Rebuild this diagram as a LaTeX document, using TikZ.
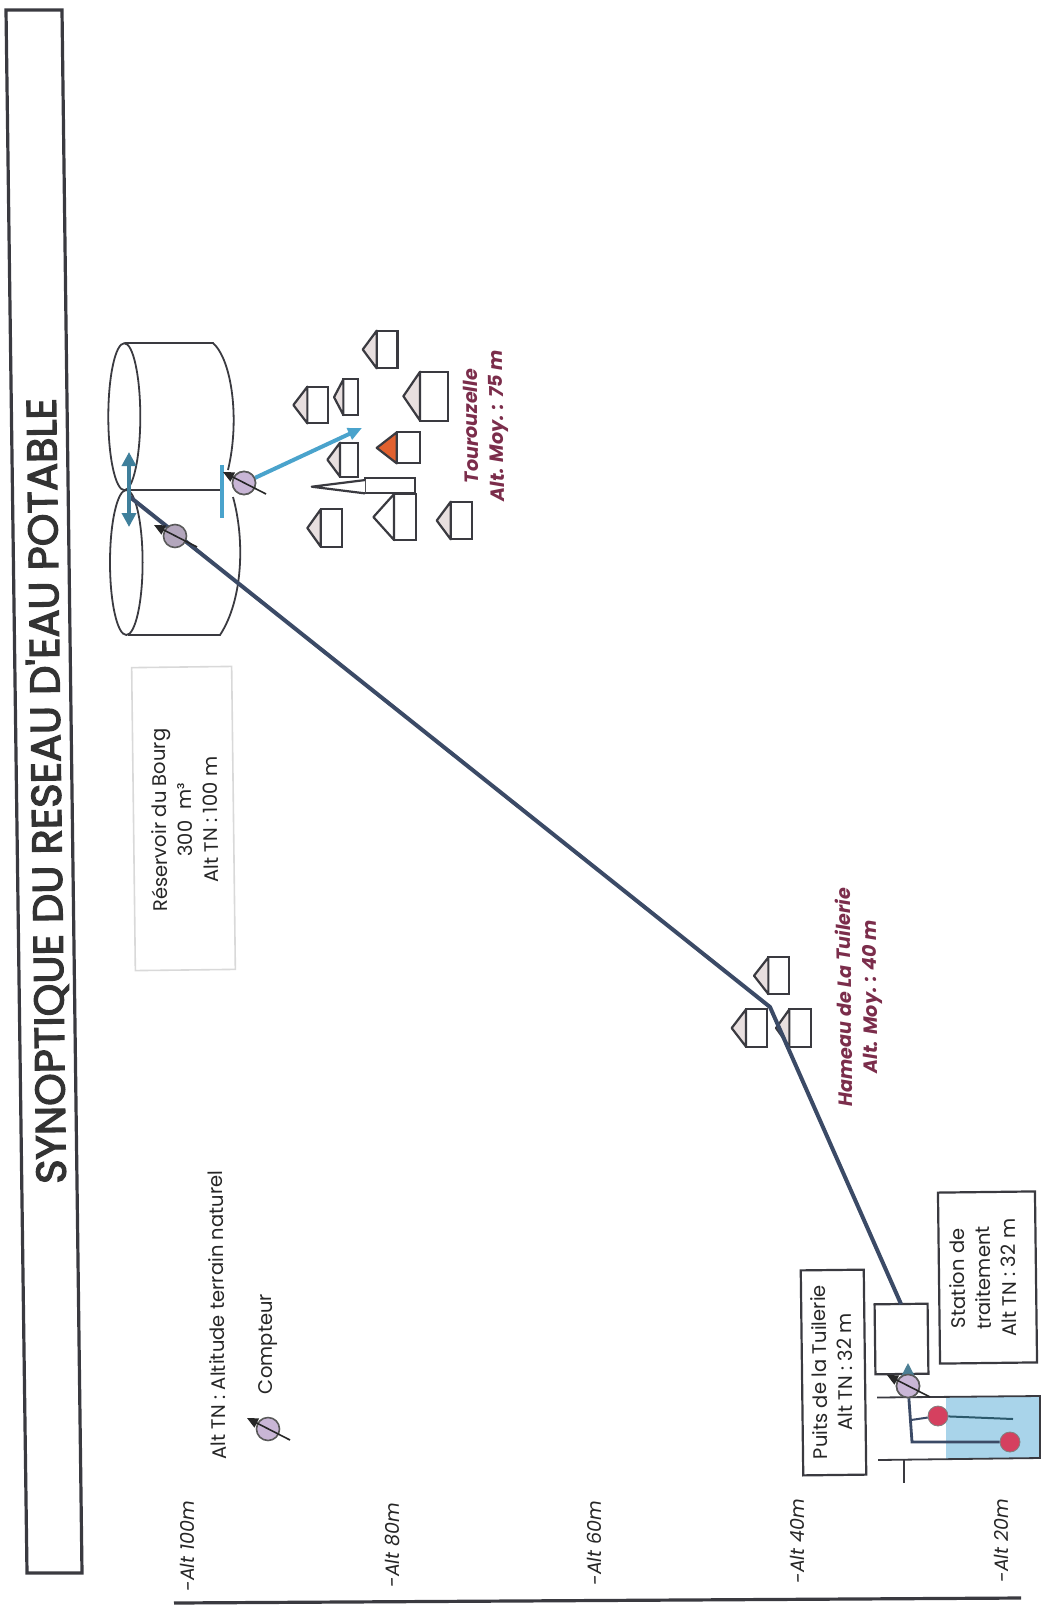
\documentclass[tikz,border=0pt]{standalone}
\usepackage{fontspec}
\setmainfont{Poppins}
\newfontfamily\titlefont[FakeBold=3]{Poppins}
\usetikzlibrary{arrows.meta}
\definecolor{pipe}{HTML}{3B4A66}
\definecolor{bluepipe}{HTML}{4AA3CC}
\definecolor{tealpipe}{HTML}{3F7F9B}
\definecolor{ink}{HTML}{3A3A40}
\definecolor{roof}{HTML}{E8DFDF}
\definecolor{roofred}{HTML}{E2612F}
\definecolor{maroon}{HTML}{7B2D4B}
\definecolor{meterfill}{HTML}{C9B6D6}
\definecolor{water}{HTML}{A9D4EA}
\definecolor{redball}{HTML}{D5405F}
\tikzset{
  wall/.style={draw=ink,line width=1.1pt,fill=white},
  roofshape/.style={draw=ink,line width=1.1pt,fill=roof,line join=round},
  txt/.style={rotate=90.7,align=center,font=\fontsize{9.8}{12.8}\selectfont,text=black!85,inner sep=0pt},
  place/.style={rotate=90.7,align=center,font=\fontsize{9.6}{12.8}\selectfont\bfseries\itshape,text=maroon,inner sep=0pt},
  axislabel/.style={rotate=90.7,anchor=west,font=\fontsize{9.6}{12}\selectfont\itshape,text=black!85,inner sep=0pt},
  framebox/.style={rotate=0.7,draw=ink,line width=1.1pt,fill=white,inner sep=0pt},
  meter/.style={circle,draw=gray!70!black,line width=0.8pt,fill=meterfill,minimum size=11.5pt,inner sep=0pt},
  shaft/.style={draw=black!85,line width=0.8pt,-{Triangle[length=5.5pt,width=5pt]}},
  tank/.style={draw=ink,line width=0.9pt},
}
\newcommand{\house}[6]{%
  \draw[wall] (#2,#4) rectangle (#3,#5);
  \draw[roofshape,fill=#6] (#2,#4) -- (#1,{(#4+#5)/2}) -- (#2,#5) -- cycle;
}
\begin{document}
\begin{tikzpicture}[x=0.5pt,y=-0.5pt]
\useasboundingbox (0,0) rectangle (1041,1606);
% title
\draw[draw=ink,line width=1.6pt] (6,10) -- (62,10) -- (82,1573) -- (27,1573) -- cycle;
\node[rotate=90.73,font=\fontsize{20.8}{24}\titlefont,text=black!80,inner sep=0pt] (title) at (47,791) {SYNOPTIQUE DU RESEAU D'EAU POTABLE};
% bottom rule
\coordinate (ruleA) at (174,1603);
\coordinate (ruleB) at (1021,1598);
\draw[ink,line width=1.6pt] (ruleA) -- (ruleB);
% axis labels
\node[axislabel] (a100) at (188,1592) {-Alt 100m};
\node[axislabel] (a80) at (393,1588) {-Alt 80m};
\node[axislabel] (a60) at (595,1586) {-Alt 60m};
\node[axislabel] (a40) at (798,1584) {-Alt 40m};
\node[axislabel] (a20) at (1002,1583) {-Alt 20m};
% legend
\node[txt] (legtn) at (217,1315) {Alt TN : Altitude terrain naturel};
\node[txt] (legc) at (268,1344) {Compteur};
\node[meter] (mleg) at (268,1429) {};
\draw[shaft] (mleg) ++(22,11) -- ++(-43,-22);
% reservoir
\draw[tank] (125,343) -- (213,343) .. controls (232,360) and (240,420) .. (228,470);
\draw[tank] (233,497) .. controls (245,540) and (243,600) .. (220,635) -- (128,635);
\draw[tank] (124.3,416.7) ellipse [x radius=16,y radius=73.5];
\draw[tank] (126.3,562.5) ellipse [x radius=16.3,y radius=72.5];
\coordinate (jtop) at (130,490);
\coordinate (jbot) at (221,490);
\draw[tank] (jtop) -- (jbot);
\node[rotate=0.7,draw=black!15,line width=0.8pt,fill=white,minimum width=50pt,minimum height=151.5pt,inner sep=0pt] (resbox) at (183.5,818.5) {};
\node[txt] (restxt) at (184.5,820) {Réservoir du Bourg\\300\ \ m³\\Alt TN : 100 m};
% Tourouzelle houses
\begin{scope}[shift={(90,310)},x=0.1667pt,y=-0.1667pt]
\house{818}{860}{922}{62}{175}{roof}
\house{610}{652}{715}{230}{340}{roof}
\house{732}{760}{803}{208}{315}{roof}
\house{940}{990}{1073}{185}{332}{roof}
\house{860}{920}{990}{367}{460}{roofred}
\house{712}{750}{805}{398}{500}{roof}
\house{850}{912}{977}{552}{690}{white}
\house{1040}{1082}{1145}{575}{688}{roof}
\house{652}{692}{757}{598}{710}{roof}
\draw[wall] (825,505) rectangle (975,550);
\draw[wall,line join=round] (825,510) -- (665,530) -- (825,550);
\end{scope}
% La Tuilerie houses
\begin{scope}[shift={(690,850)},x=0.1667pt,y=-0.1667pt]
\house{192}{235}{297}{322}{432}{roof}
\house{125}{168}{232}{478}{590}{roof}
\house{258}{298}{362}{478}{590}{roof}
\end{scope}
% main pipe
\node[framebox,minimum width=26.5pt,minimum height=35pt] (treat) at (901.5,1339) {};
\coordinate (inlet) at (130,497);
\coordinate (knee) at (770,1007);
\coordinate (treatin) at (901,1304);
\draw[pipe,line width=2pt,line join=round] (inlet) -- (knee) -- (treatin);
% blue distribution
\node[meter] (m2) at (244,483) {};
\coordinate (dist) at (362,428);
\draw[bluepipe,line width=2pt,-{Triangle[length=7pt,width=6pt]}] (m2) -- (dist);
\draw[bluepipe,line width=2pt] (222,465) -- (222,518);
\draw[tealpipe,line width=1.8pt,{Triangle[length=7pt,width=7pt]}-{Triangle[length=7pt,width=7pt]}] (129,452) -- (129,527);
\node[meter,fill=meterfill!70!gray] (m1) at (175,536) {};
\draw[shaft] (m1) ++(22,11) -- ++(-43,-22);
\node[meter] at (m2) {};
\draw[shaft] (m2) ++(22,11) -- ++(-43,-22);
\node[place] (tou) at (486,426) {Tourouzelle\\Alt. Moy. : 75 m};
\node[place] (ham) at (859,997) {Hameau de La Tuilerie\\Alt. Moy. : 40 m};
% well
\fill[water] (946,1397) -- (1040,1396) -- (1040,1458) -- (946,1459) -- cycle;
\draw[ink,line width=0.9pt] (877,1397.5) -- (1040,1396) -- (1040,1458) -- (878,1460);
\draw[ink,line width=0.9pt] (904,1460) -- (904,1483);
\node[circle,draw=black!50,fill=redball,minimum size=10pt,inner sep=0pt] (p1) at (938,1416) {};
\node[circle,draw=black!50,fill=redball,minimum size=10pt,inner sep=0pt] (p2) at (1010,1442) {};
\coordinate (wellend) at (1013,1419);
\draw[tealpipe!70!black,line width=1pt] (p1) -- (wellend);
\node[meter] (m3) at (908,1386) {};
\coordinate (wellbend) at (912,1442);
\coordinate (wellbranch) at (911,1420);
\draw[pipe,line width=1.4pt] (m3) -- (wellbend) -- (p2);
\draw[pipe,line width=1pt] (wellbranch) -- (p1);
\coordinate (uparrow) at (908,1363);
\draw[tealpipe!80!gray,line width=1pt,-{Triangle[length=9pt,width=9pt]}] (m3) -- (uparrow);
\node[meter] at (m3) {};
\draw[shaft] (m3) ++(22,11) -- ++(-43,-22);
% boxes
\node[framebox,minimum width=31.5pt,minimum height=102.5pt] (puits) at (833.5,1372.5) {};
\node[txt] (puitstxt) at (832,1372) {Puits de la Tuilerie\\Alt TN : 32 m};
\node[framebox,minimum width=48.5pt,minimum height=85.5pt] (stat) at (987.5,1277.5) {};
\node[txt] (stattxt) at (983,1278) {Station de\\traitement\\Alt TN : 32 m};
\end{tikzpicture}
\end{document}
